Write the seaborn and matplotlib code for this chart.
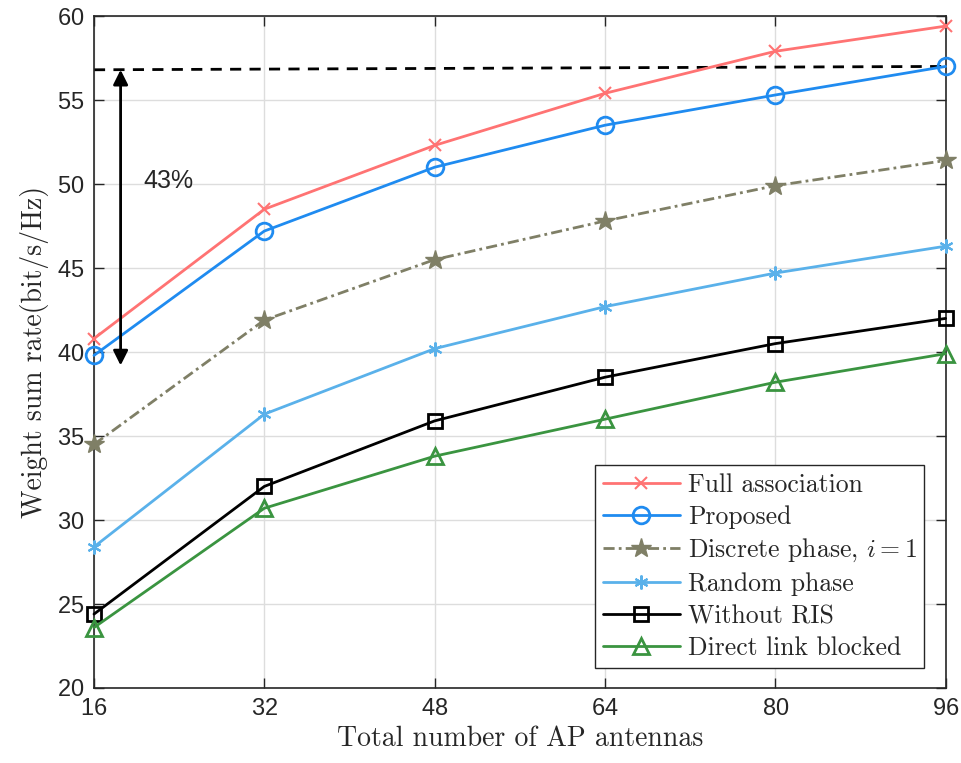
import numpy as np
import pandas as pd
import matplotlib
matplotlib.use("Agg")
import matplotlib.pyplot as plt
import seaborn as sns

antennas = [16, 32, 48, 64, 80, 96]
full_assoc = [40.8, 48.5, 52.3, 55.4, 57.9, 59.4]
proposed = [39.8, 47.2, 51.0, 53.5, 55.3, 57.0]
discrete = [34.5, 41.9, 45.5, 47.8, 49.9, 51.4]
random_phase = [28.4, 36.3, 40.2, 42.7, 44.7, 46.3]
without_ris = [24.4, 32.0, 35.9, 38.5, 40.5, 42.0]
direct_blocked = [23.6, 30.7, 33.8, 36.0, 38.2, 39.9]

labels = ["Full association", "Proposed", r"Discrete phase, $i=1$",
          "Random phase", "Without RIS", "Direct link blocked"]
series = [full_assoc, proposed, discrete, random_phase, without_ris, direct_blocked]

ref_line_x = [16, 96]
ref_line_y = [56.8, 57.0]
arrow_x = 18.5
arrow_y = [56.8, 39.2]
pct_text = "43%"

sns.set_theme(style="whitegrid")
plt.rcParams["mathtext.fontset"] = "cm"
plt.rcParams["axes.formatter.use_mathtext"] = True

styles = [
    dict(color="#FF7373", marker="x", linestyle="-", ms=8, mfc="none", mew=1.5),
    dict(color="#1F8BF0", marker="o", linestyle="-", ms=12, mfc="none", mew=2),
    dict(color="#7F7F66", marker="*", linestyle="--", ms=15, mfc="#7F7F66", mew=1),
    dict(color="#5AB1EA", marker="*", linestyle="-", ms=0, mfc="none", mew=1.5),
    dict(color="black", marker="s", linestyle="-", ms=10, mfc="none", mew=2),
    dict(color="#3A9440", marker="^", linestyle="-", ms=12, mfc="none", mew=2),
]

fig = plt.figure(figsize=(9.62, 7.63), dpi=100)
ax = fig.add_axes([0.0977, 0.0983, 0.8853, 0.8807])

for lab, vals, st in zip(labels, series, styles):
    df = pd.DataFrame({"x": antennas, "y": vals})
    sns.lineplot(data=df, x="x", y="y", ax=ax, color=st["color"], linewidth=2,
                 linestyle=st["linestyle"], label=lab, legend=False)
    line = ax.lines[-1]
    if lab == "Random phase":
        line.set_marker((6, 2, 0))
        line.set_markersize(10)
        line.set_markeredgewidth(1.5)
    else:
        line.set_marker(st["marker"])
        line.set_markersize(st["ms"])
        line.set_markeredgewidth(st["mew"])
    line.set_markerfacecolor(st["mfc"])
    line.set_markeredgecolor(st["color"])
    line.set_clip_on(False)
    line.set_zorder(3)
    if st["linestyle"] == "--":
        line.set_dashes([4, 1.5, 1, 1.5])

ax.plot(ref_line_x, ref_line_y, color="black", linestyle="--", linewidth=2, dashes=(4, 3))
ax.annotate("", xy=(arrow_x, arrow_y[1]), xytext=(arrow_x, arrow_y[0]),
            arrowprops=dict(arrowstyle="<|-|>", color="black", lw=2, mutation_scale=22,
                            shrinkA=0, shrinkB=0))
ax.text(20.6, 50.2, pct_text, fontsize=18, family="Liberation Sans", va="center", ha="left")

ax.set_xlim(16, 96)
ax.set_ylim(20, 60)
ax.set_xticks(antennas)
ax.set_yticks(np.arange(20, 61, 5))
ax.set_xlabel("Total number of AP antennas", family="cmr10", fontsize=20, labelpad=4)
ax.set_ylabel("Weight sum rate(bit/s/Hz)", family="cmr10", fontsize=20, labelpad=6)
for t in ax.get_xticklabels() + ax.get_yticklabels():
    t.set_family("Liberation Sans")
    t.set_fontsize(17)
ax.tick_params(direction="in", length=7, width=1, colors="#262626", top=True, right=True,
               bottom=True, left=True, pad=7)
ax.grid(True, color="#DDDDDD", linewidth=1)
for sp in ax.spines.values():
    sp.set_color("#262626")
    sp.set_linewidth(1.2)

handles = ax.lines[:6]
leg = ax.legend(handles, labels, loc="lower right", prop={"family": "cmr10", "size": 18.5},
                frameon=True, fancybox=False, edgecolor="#262626", framealpha=1,
                handlelength=3.0, borderpad=0.3, labelspacing=0.32, handletextpad=0.3,
                borderaxespad=0, bbox_to_anchor=(0.975, 0.03))
leg.get_frame().set_linewidth(1)
leg.set_zorder(5)

fig.savefig("out.png", dpi=100, facecolor="white")
